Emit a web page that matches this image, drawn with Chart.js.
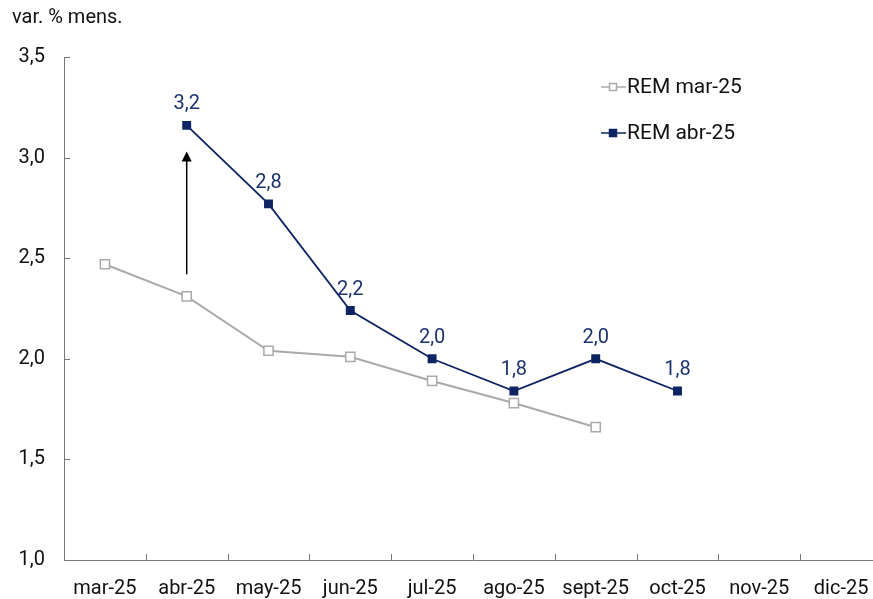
<!DOCTYPE html>
<html>
<head>
<meta charset="utf-8">
<script src="https://cdn.jsdelivr.net/npm/chart.js@4"></script>
<style>
  html, body { margin: 0; padding: 0; background: #fff; overflow: hidden; }
  #wrap { width: 890px; height: 599px; }
</style>
</head>
<body>
<div id="wrap"><canvas id="chart" width="890" height="599"></canvas></div>
<script>
const months = ["mar-25", "abr-25", "may-25", "jun-25", "jul-25", "ago-25", "sept-25", "oct-25", "nov-25", "dic-25"];
const remMar = [2.47, 2.31, 2.04, 2.01, 1.89, 1.78, 1.66, null, null, null];
const remAbr = [null, 3.16, 2.77, 2.24, 2.0, 1.84, 2.0, 1.84, null, null];
const yTicks = [1.0, 1.5, 2.0, 2.5, 3.0, 3.5];
// revision arrow on abr-25
const arrowMonth = 1;
const arrowFrom = 2.42;
const arrowTo = 3.03;

const NAVY = "#0e2462";
const GRAY = "#aaaaaa";
const FONT = "Roboto, 'Noto Sans', sans-serif";

const fmt = v => v.toFixed(1).replace(".", ",");

/* ===== extra drawing ===== */
const extras = {
  id: "extras",
  afterDraw(chart) {
    const { ctx, chartArea: a, scales: { x, y } } = chart;
    ctx.save();

    // inward tick marks
    ctx.strokeStyle = "#777";
    ctx.lineWidth = 1;
    yTicks.forEach(t => {
      const py = Math.round(y.getPixelForValue(t)) + 0.5;
      ctx.beginPath(); ctx.moveTo(a.left, py); ctx.lineTo(a.left + 6, py); ctx.stroke();
    });
    const half = (x.getPixelForValue(1) - x.getPixelForValue(0)) / 2;
    for (let i = 0; i < months.length - 1; i++) {
      const px = Math.round(x.getPixelForValue(i) + half) + 0.5;
      ctx.beginPath(); ctx.moveTo(px, a.bottom); ctx.lineTo(px, a.bottom - 6); ctx.stroke();
    }

    // title
    ctx.fillStyle = "#111";
    ctx.font = "20px " + FONT;
    ctx.textAlign = "left";
    ctx.textBaseline = "middle";
    ctx.fillText("var. % mens.", 12, 18);

    // value labels for REM abr-25
    ctx.fillStyle = "#1c3370";
    ctx.font = "20px " + FONT;
    ctx.textAlign = "center";
    ctx.textBaseline = "middle";
    chart.getDatasetMeta(1).data.forEach((pt, i) => {
      if (remAbr[i] == null) return;
      ctx.fillText(fmt(remAbr[i]), pt.x, pt.y - 21);
    });

    // arrow
    const ax = x.getPixelForValue(arrowMonth);
    const y0 = y.getPixelForValue(arrowFrom);
    const y1 = y.getPixelForValue(arrowTo);
    ctx.strokeStyle = "#000";
    ctx.fillStyle = "#000";
    ctx.lineWidth = 1.5;
    ctx.beginPath(); ctx.moveTo(ax, y0); ctx.lineTo(ax, y1 + 8); ctx.stroke();
    ctx.beginPath();
    ctx.moveTo(ax, y1); ctx.lineTo(ax - 5, y1 + 10); ctx.lineTo(ax + 5, y1 + 10);
    ctx.closePath(); ctx.fill();

    // legend
    const items = [
      { label: "REM mar-25", color: GRAY, fill: "#fff", y: 87 },
      { label: "REM abr-25", color: NAVY, fill: NAVY, y: 133 }
    ];
    items.forEach(it => {
      ctx.strokeStyle = it.color;
      ctx.lineWidth = 1.5;
      ctx.beginPath(); ctx.moveTo(601, it.y); ctx.lineTo(626, it.y); ctx.stroke();
      ctx.fillStyle = it.fill;
      ctx.fillRect(609.5, it.y - 3.5, 7, 7);
      ctx.strokeRect(609.5, it.y - 3.5, 7, 7);
      ctx.fillStyle = "#111";
      ctx.font = "21px " + FONT;
      ctx.textAlign = "left";
      ctx.fillText(it.label, 627, it.y + 1);
    });

    ctx.restore();
  }
};

new Chart(document.getElementById("chart"), {
  type: "line",
  data: {
    labels: months,
    datasets: [
      {
        label: "REM mar-25",
        data: remMar,
        borderColor: GRAY,
        borderWidth: 2,
        pointStyle: "rect",
        pointRadius: 6.5,
        pointBorderWidth: 1.5,
        pointBorderColor: GRAY,
        pointBackgroundColor: "#fff",
        tension: 0
      },
      {
        label: "REM abr-25",
        data: remAbr,
        borderColor: NAVY,
        borderWidth: 1.8,
        pointStyle: "rect",
        pointRadius: 6.3,
        pointBorderWidth: 0,
        pointBackgroundColor: NAVY,
        tension: 0
      }
    ]
  },
  options: {
    responsive: false,
    animation: false,
    layout: { padding: { top: 57, right: 1, left: 0, bottom: 0 } },
    plugins: {
      legend: { display: false },
      tooltip: { enabled: false }
    },
    scales: {
      x: {
        offset: true,
        grid: { display: false, drawTicks: false },
        border: { display: true, color: "#777", width: 1 },
        ticks: { color: "#111", font: { family: FONT, size: 20 }, padding: 17, maxRotation: 0, autoSkip: false },
        afterFit: s => { s.height = 39; }
      },
      y: {
        min: 1,
        max: 3.5,
        afterBuildTicks: s => { s.ticks = yTicks.map(v => ({ value: v })); },
        grid: { display: false, drawTicks: false },
        border: { display: true, color: "#777", width: 1 },
        ticks: { color: "#111", font: { family: FONT, size: 20 }, padding: 19, callback: v => fmt(v) },
        afterFit: s => { s.width = 64; }
      }
    }
  },
  plugins: [extras]
});
</script>
</body>
</html>
